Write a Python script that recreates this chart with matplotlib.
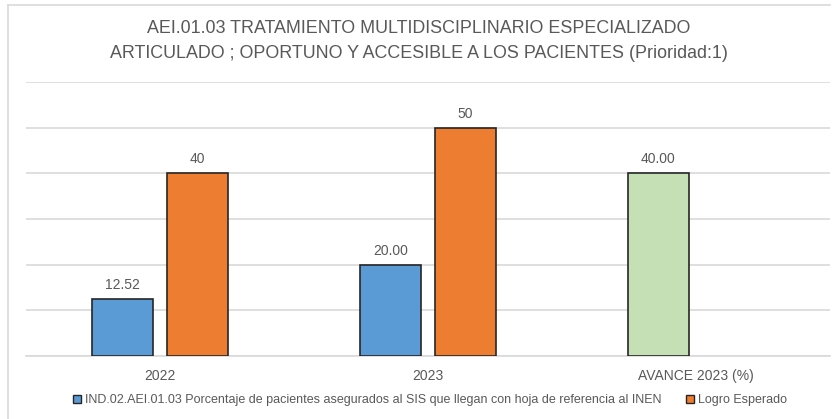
import numpy as np
import matplotlib.pyplot as plt
from matplotlib.lines import Line2D
from matplotlib.patches import Patch

# data
categories = ['2022', '2023', 'AVANCE 2023 (%)']
indicador = [12.52, 20.00, 40.00]
indicador_labels = ['12.52', '20.00', '40.00']
logro = [40, 50, None]
logro_labels = ['40', '50', '']

serie1_name = 'IND.02.AEI.01.03 Porcentaje de pacientes asegurados al SIS que llegan con hoja de referencia al INEN'
serie2_name = 'Logro Esperado'
title = ('AEI.01.03 TRATAMIENTO MULTIDISCIPLINARIO ESPECIALIZADO\n'
         'ARTICULADO ; OPORTUNO Y ACCESIBLE A LOS PACIENTES (Prioridad:1)')

plt.rcParams['font.family'] = ['Liberation Sans', 'DejaVu Sans']

blue = '#5b9bd5'
orange = '#ed7d31'
green = '#c5e0b4'
grey_txt = '#595959'

fig = plt.figure(figsize=(8.37, 4.19), dpi=100)
ax = fig.add_axes([26/837, 1 - 356/419, 804/837, 274/419])

x = np.arange(len(categories))
w = 0.227
off = 0.14

cols1 = [blue, blue, green]
b1 = ax.bar(x - off, indicador, w, color=cols1, edgecolor='#262626', linewidth=1.2, zorder=3)
x2 = [xi + off for xi, v in zip(x, logro) if v is not None]
v2 = [v for v in logro if v is not None]
b2 = ax.bar(x2, v2, w, color=orange, edgecolor='#262626', linewidth=1.2, zorder=3)

for rect, lab in zip(b1, indicador_labels):
    ax.annotate(lab, (rect.get_x() + rect.get_width()/2, rect.get_height()),
                xytext=(0, 5), textcoords='offset points', ha='center', va='bottom',
                fontsize=10, color=grey_txt)
for rect, lab in zip(b2, logro_labels):
    ax.annotate(lab, (rect.get_x() + rect.get_width()/2, rect.get_height()),
                xytext=(0, 5), textcoords='offset points', ha='center', va='bottom',
                fontsize=10, color=grey_txt)

ax.set_xlim(-0.5, 2.5)
ax.set_ylim(0, 60)
ax.set_yticks(np.arange(0, 61, 10))
ax.yaxis.grid(True, color='#d9d9d9', linewidth=1.2, zorder=0)
ax.tick_params(axis='y', left=False, labelleft=False)
ax.set_xticks(x)
ax.set_xticklabels(categories, fontsize=10, color=grey_txt)
ax.tick_params(axis='x', length=0, pad=9)
for s in ['top', 'right', 'left']:
    ax.spines[s].set_visible(False)
ax.spines['bottom'].set_color('#d9d9d9')
ax.spines['bottom'].set_linewidth(1.2)

fig.text(0.5, 1 - 41/419, title, ha='center', va='center', fontsize=12.9,
         color=grey_txt, linespacing=1.55)

handles = [Patch(facecolor=blue, edgecolor='#262626'),
           Patch(facecolor=orange, edgecolor='#262626')]
fig.legend(handles, [serie1_name, serie2_name], loc='center',
           bbox_to_anchor=(430/837, 1 - 400/419), ncol=2, frameon=False,
           fontsize=9, handlelength=0.6, handleheight=0.6, handletextpad=0.3,
           columnspacing=2.0, labelcolor=grey_txt)

# outer chart border (top and left visible)
fig.add_artist(Line2D([8/837, 8/837], [0, 1 - 5/419], transform=fig.transFigure,
                      color='#d9d9d9', linewidth=1.2))
fig.add_artist(Line2D([8/837, 830/837], [1 - 5/419, 1 - 5/419], transform=fig.transFigure,
                      color='#d9d9d9', linewidth=1.2))

fig.savefig('out.png', dpi=100)
